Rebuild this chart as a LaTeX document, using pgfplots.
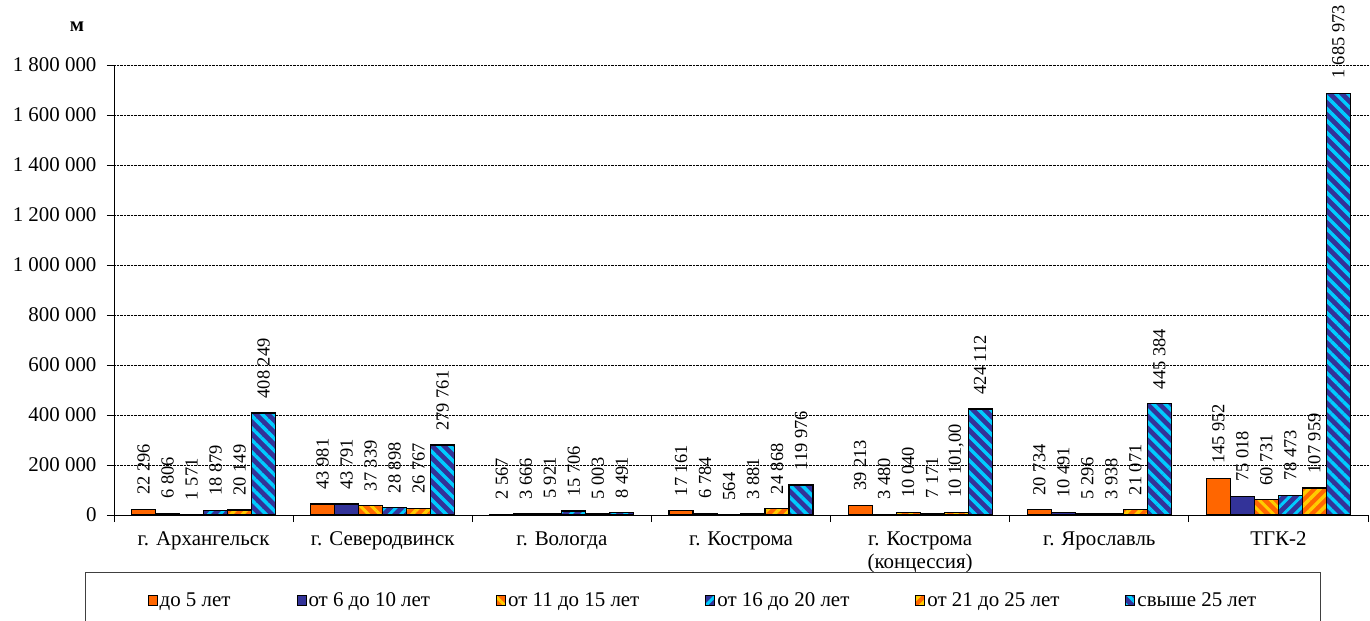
\documentclass[border=0pt]{standalone}
\usepackage{fontspec}
\setmainfont{Liberation Serif}
\usepackage{pgfplots}
\pgfplotsset{compat=1.18}
\usetikzlibrary{patterns.meta}
\definecolor{cOr}{HTML}{FF6600}
\definecolor{cYe}{HTML}{FFCC00}
\definecolor{cBl}{HTML}{333399}
\definecolor{cCy}{HTML}{00CCFF}
\newcommand{\ff}{\fontsize{21}{23}\selectfont}
\newcommand{\fl}{\fontsize{18.5}{20}\selectfont}
\begin{document}
\begin{tikzpicture}
\begin{axis}[
  scale only axis,
  width=1254bp, height=450bp,
  xmin=-0.5, xmax=6.5,
  ymin=0, ymax=1800000,
  clip=false,
  scaled y ticks=false,
  axis x line*=bottom, axis y line*=left,
  axis line style={-, black, line width=0.8bp},
  ybar=0pt, bar width=24bp,
  ytick={0,200000,400000,600000,800000,1000000,1200000,1400000,1600000,1800000},
  yticklabels={0,200 000,400 000,600 000,800 000,1 000 000,1 200 000,1 400 000,1 600 000,1 800 000},
  xtick={0,1,2,3,4,5,6},
  xticklabels={г. Архангельск,г. Северодвинск,г. Вологда,г. Кострома,{г. Кострома\\(концессия)},г. Ярославль,ТГК-2},
  minor xtick={-0.5,0.5,1.5,2.5,3.5,4.5,5.5,6.5},
  major x tick style={draw=none},
  tick align=outside,
  major tick length=7bp, minor tick length=7bp,
  tick style={black, line width=0.8bp},
  ymajorgrids,
  major grid style={densely dotted, black, line width=0.8bp},
  /pgf/number format/assume math mode=true,
  tick label style={font=\ff},
  xticklabel style={align=center, yshift=-6bp},
  yticklabel style={xshift=-7bp},
  point meta=explicit symbolic,
  nodes near coords,
  every node near coord/.append style={rotate=90, anchor=west, inner xsep=14bp, inner ysep=0bp, font=\fl, black},
  legend columns=6,
  legend style={at={(axis description cs:0.4697,-0.1267)}, anchor=north, draw=black!75, line width=1.2bp, font=\ff, inner xsep=62bp, inner ysep=18bp, /tikz/every even column/.append style={column sep=64bp}},
  legend image code/.code={\draw[#1, line width=1bp] (0bp,-5bp) rectangle (9bp,5bp);},
]
\addplot[draw=black, line width=1.2bp, fill=cOr] coordinates {(0,22296)[22 296] (1,43981)[43 981] (2,2567)[2 567] (3,17161)[17 161] (4,39213)[39 213] (5,20734)[20 734] (6,145952)[145 952]};
\addlegendentry{до 5 лет}
\addplot[draw=black, line width=1.2bp, fill=cBl] coordinates {(0,6806)[6 806] (1,43791)[43 791] (2,3666)[3 666] (3,6784)[6 784] (4,3480)[3 480] (5,10491)[10 491] (6,75018)[75 018]};
\addlegendentry{от 6 до 10 лет}
\addplot[draw=black, line width=1.2bp, fill=cOr, postaction={pattern={Lines[angle=-45,distance=8bp,line width=3bp]}, pattern color=cYe}] coordinates {(0,1571)[1 571] (1,37339)[37 339] (2,5921)[5 921] (3,564)[564] (4,10040)[10 040] (5,5296)[5 296] (6,60731)[60 731]};
\addlegendentry{от 11 до 15 лет}
\addplot[draw=black, line width=1.2bp, fill=cBl, postaction={pattern={Lines[angle=45,distance=8bp,line width=3bp]}, pattern color=cCy}] coordinates {(0,18879)[18 879] (1,28898)[28 898] (2,15706)[15 706] (3,3881)[3 881] (4,7171)[7 171] (5,3938)[3 938] (6,78473)[78 473]};
\addlegendentry{от 16 до 20 лет}
\addplot[draw=black, line width=1.2bp, fill=cOr, postaction={pattern={Lines[angle=45,distance=8bp,line width=3.5bp]}, pattern color=cYe}] coordinates {(0,20149)[20 149] (1,26767)[26 767] (2,5003)[5 003] (3,24868)[24 868] (4,10101)[10 101{,}00] (5,21071)[21 071] (6,107959)[107 959]};
\addlegendentry{от 21 до 25 лет}
\addplot[draw=black, line width=1.2bp, fill=cBl, postaction={pattern={Lines[angle=-45,distance=8.5bp,line width=3.5bp]}, pattern color=cCy}] coordinates {(0,408249)[408 249] (1,279761)[279 761] (2,8491)[8 491] (3,119976)[119 976] (4,424112)[424 112] (5,445384)[445 384] (6,1685973)[1 685 973]};
\addlegendentry{свыше 25 лет}
\end{axis}
\node[font=\bfseries\ff] at (-37bp,488bp) {м};
\pgfresetboundingbox
\path[use as bounding box] (-114bp,-106bp) rectangle (1256bp,515bp);
\end{tikzpicture}
\end{document}
